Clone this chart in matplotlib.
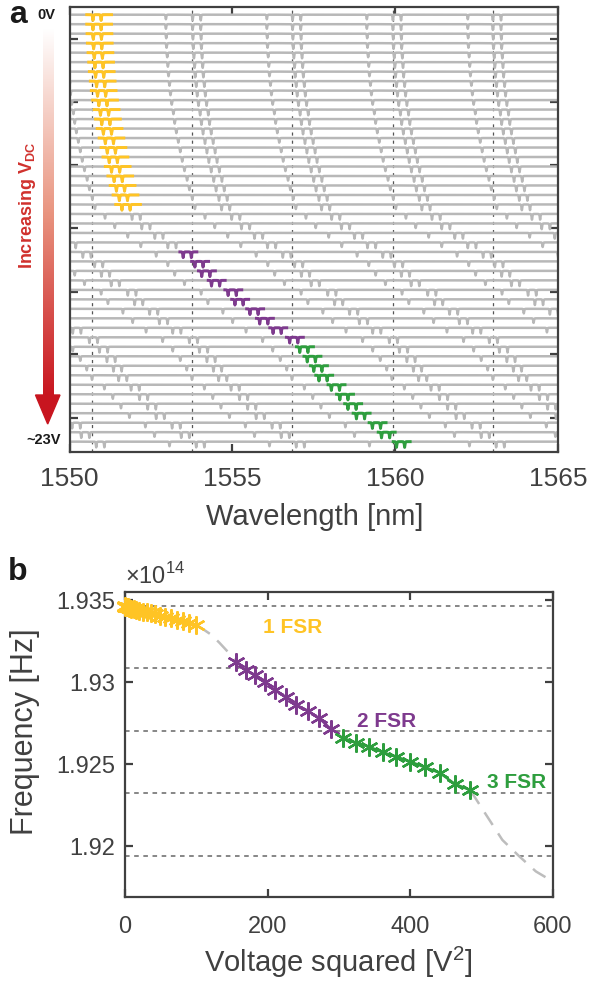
import numpy as np
import matplotlib.pyplot as plt
from matplotlib.patches import Polygon
from matplotlib.colors import LinearSegmentedColormap

plt.rcParams['font.family'] = ['Liberation Sans', 'DejaVu Sans']
plt.rcParams['mathtext.fontset'] = 'custom'
plt.rcParams['mathtext.rm'] = 'Liberation Sans'
plt.rcParams['mathtext.bf'] = 'Liberation Sans:bold'

# ---------------- panel a data ----------------
# first dip of the tracked resonance (nm), one value per trace, 0 V .. 22.5 V
track_nm = [1550.72, 1550.72, 1550.73, 1550.74, 1550.76, 1550.78, 1550.80, 1550.83,
            1550.86, 1550.90, 1550.95, 1550.99, 1551.04, 1551.10, 1551.16, 1551.22,
            1551.29, 1551.37, 1551.44, 1551.53, 1551.61,
            1551.92, 1552.22, 1552.62, 1553.02,
            1553.49, 1553.85, 1554.06, 1554.36, 1554.87, 1555.08, 1555.54, 1555.84,
            1556.25, 1556.76,
            1557.07, 1557.30, 1557.50, 1557.66, 1558.04, 1558.30, 1558.55, 1558.81,
            1559.30, 1559.58, 1560.04]
# which traces are highlighted
yellow_rows = list(range(0, 21))
purple_rows = list(range(25, 35))
green_rows = list(range(35, 46))
# resonance positions at 0 V (nm)
doublet_nm = [1541.50, 1544.57, 1547.64, 1550.72, 1553.78, 1556.85, 1559.93, 1563.00]
single_nm = [1540.68, 1543.75, 1546.82, 1549.89, 1552.96, 1556.06, 1559.13, 1562.23]
split_nm = 0.25
fsr_lines_nm = [1550.70, 1553.77, 1556.84, 1559.92, 1562.99]

# ---------------- panel b data ----------------
v2_yellow = [0, 0.25, 1, 2.25, 4, 6.25, 9, 12.25, 16, 20.25, 25, 30.25, 36, 42.25,
             49, 56.25, 64, 72.25, 81, 90.25, 100]
f_yellow = [1.93462, 1.93460, 1.93458, 1.93457, 1.93455, 1.93452, 1.93448, 1.93445,
            1.93440, 1.93436, 1.93430, 1.93425, 1.93418, 1.93412, 1.93405, 1.93397,
            1.93390, 1.93380, 1.93370, 1.93360, 1.93348]
v2_gap = [110.25, 121, 132.25, 144]
f_gap = [1.93320, 1.93288, 1.93240, 1.93185]
v2_purple = [156.25, 169, 182.25, 196, 210.25, 225, 240.25, 256, 272.25, 289]
f_purple = [1.93124, 1.93073, 1.93043, 1.93002, 1.92951, 1.92910, 1.92860, 1.92825,
            1.92779, 1.92712]
v2_green = [306.25, 324, 342.25, 361, 380.25, 400, 420.25, 441, 462.25, 484]
f_green = [1.92657, 1.92630, 1.92606, 1.92571, 1.92545, 1.92514, 1.92480, 1.92447,
           1.92378, 1.92341]
v2_tail = [506.25, 529, 552.25, 576, 600.25]
f_tail = [1.92190, 1.92037, 1.91939, 1.91845, 1.91782]
fsr_lines_f = [1.93465, 1.93087, 1.92701, 1.92325, 1.91940]

YEL = '#FFC425'
PUR = '#7E3A8E'
GRN = '#2E9E3E'
AX = '#404040'

W, H = 590, 986
fig = plt.figure(figsize=(W / 100, H / 100), dpi=100)


def fx(px):
    return px / W


def fy(py):
    return 1 - py / H


# ---------------- panel a ----------------
ax1 = fig.add_axes([fx(69.5), fy(452), fx(558) - fx(69.5), fy(7) - fy(452)])
wl = np.linspace(1550, 1565, 7501)
w = 0.018
for k, t in enumerate(track_nm):
    s = t - track_nm[0]
    y = np.zeros_like(wl) - k
    # narrow dips -> thin vertical stems
    for b in doublet_nm:
        for d in (b + s, b + s + split_nm):
            y -= 0.6 / (1 + ((wl - d) / w) ** 2) ** 2
    for b in single_nm:
        y -= 0.48 / (1 + ((wl - (b + s)) / w) ** 2) ** 2
    ax1.plot(wl, y, color='#b8b8b8', lw=1.8, zorder=2)
    col = None
    if k in yellow_rows:
        col, lo, hi = YEL, t - 0.19, t + split_nm + 0.32
    elif k in purple_rows:
        col, lo, hi = PUR, t - 0.10, t + split_nm + 0.17
    elif k in green_rows:
        col, lo, hi = GRN, t - 0.10, t + split_nm + 0.17
    if col:
        m = (wl >= lo) & (wl <= hi)
        ax1.plot(wl[m], y[m], color=col, lw=2.1, zorder=3)

for x in fsr_lines_nm:
    ax1.axvline(x, color='#555555', lw=0.9, ls=(0, (2.5, 4)), zorder=1)

ax1.set_xlim(1550, 1565)
ax1.set_ylim(-46.09, 0.81)
ax1.set_xticks([1550, 1555, 1560, 1565])
ax1.set_yticks([-2.56, -9.20, -15.84, -22.48, -29.22, -35.75, -42.49])
ax1.set_yticklabels([])
ax1.tick_params(direction='in', length=6, width=1.6, colors=AX, labelsize=19,
                top=True, right=True, pad=11)
for sp in ax1.spines.values():
    sp.set_color(AX)
    sp.set_linewidth(1.6)
fig.text(fx(315), fy(517), 'Wavelength [nm]', ha='center', va='center',
         fontsize=21, color=AX)

# gradient arrow and labels on the left
cmap = LinearSegmentedColormap.from_list('arr', ['#ffffff', '#e99580', '#c8151f'])
axg = fig.add_axes([fx(42.5), fy(396), fx(10.5), fy(28) - fy(396)])
axg.imshow(np.linspace(0, 1, 256)[:, None], aspect='auto', cmap=cmap)
axg.axis('off')
fig.add_artist(Polygon([[fx(35.5), fy(395)], [fx(60), fy(395)], [fx(47.7), fy(424)]],
                       closed=True, color='#c8151f', transform=fig.transFigure))
fig.text(fx(27), fy(205), r'Increasing V$_{\mathbf{DC}}$', rotation=90,
         ha='center', va='center', fontsize=13, fontweight='bold', color='#d0312d')
fig.text(fx(46), fy(15), '0V', ha='center', va='center', fontsize=10.5,
         fontweight='bold', color='#1a1a1a')
fig.text(fx(44), fy(440), '~23V', ha='center', va='center', fontsize=10.5,
         fontweight='bold', color='#1a1a1a')
fig.text(fx(18), fy(15), 'a', ha='center', va='center', fontsize=23,
         fontweight='bold', color='#1a1a1a')
fig.text(fx(18), fy(572), 'b', ha='center', va='center', fontsize=23,
         fontweight='bold', color='#1a1a1a')

# ---------------- panel b ----------------
ax2 = fig.add_axes([fx(125), fy(897), fx(553) - fx(125), fy(592) - fy(897)])
for f in fsr_lines_f:
    ax2.axhline(f, color='#666666', lw=1.1, ls=(0, (3, 3)), zorder=1)
v2_all = v2_yellow + v2_gap + v2_purple + v2_green + v2_tail
f_all = f_yellow + f_gap + f_purple + f_green + f_tail
ax2.plot(v2_all, f_all, color='#bdbdbd', lw=1.8, ls=(0, (6, 4)), zorder=2)
for v, f, c in [(v2_yellow, f_yellow, YEL), (v2_purple, f_purple, PUR),
                (v2_green, f_green, GRN)]:
    ax2.plot(v, f, color=c, lw=1.8, marker=(6, 2, 0), ms=13, mew=1.7, zorder=3,
             clip_on=False)

ax2.text(235, 1.93335, '1 FSR', color=YEL, fontsize=15, fontweight='bold',
         ha='center', va='center')
ax2.text(366, 1.92762, '2 FSR', color=PUR, fontsize=15, fontweight='bold',
         ha='center', va='center')
ax2.text(549, 1.92390, '3 FSR', color=GRN, fontsize=15, fontweight='bold',
         ha='center', va='center')

ax2.set_xlim(0, 600)
ax2.set_ylim(1.91689, 1.93549)
ax2.set_xticks([0, 200, 400, 600])
ax2.set_yticks([1.92, 1.925, 1.93, 1.935])
ax2.set_yticklabels(['1.92', '1.925', '1.93', '1.935'])
ax2.tick_params(direction='in', length=6, width=1.6, colors=AX, labelsize=17,
                top=True, right=True, pad=7)
ax2.tick_params(axis='x', pad=14)
for sp in ax2.spines.values():
    sp.set_color(AX)
    sp.set_linewidth(1.6)
fig.text(fx(125), fy(576), r'$\times10^{14}$', ha='left', va='center',
         fontsize=17, color=AX)
fig.text(fx(338), fy(962), r'Voltage squared [V$^2$]', ha='center', va='center',
         fontsize=21, color=AX)
fig.text(fx(25), fy(732), 'Frequency [Hz]', rotation=90, ha='center', va='center',
         fontsize=22, color=AX)

fig.savefig('out.png', dpi=100)
